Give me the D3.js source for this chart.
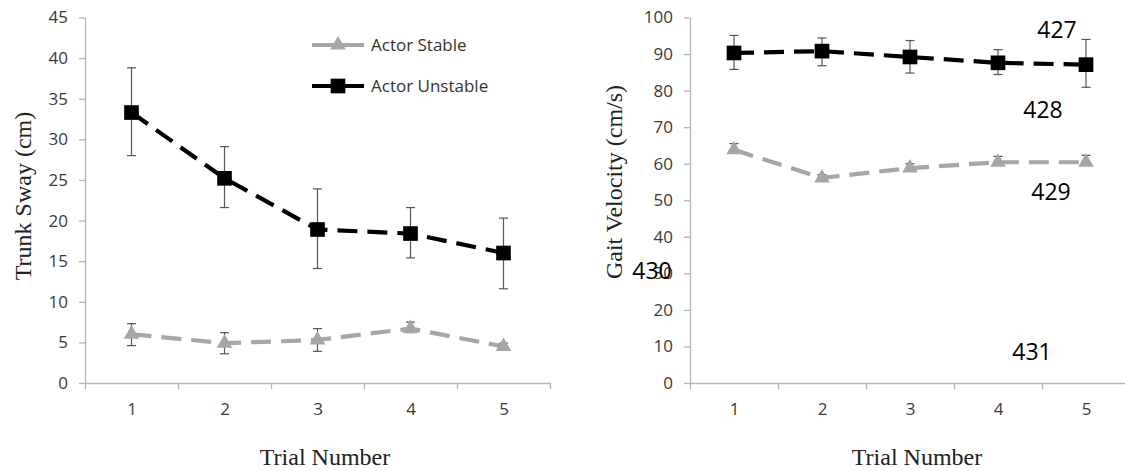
<!DOCTYPE html>
<html>
<head>
<meta charset="utf-8">
<script src="https://cdn.jsdelivr.net/npm/d3@7"></script>
<style>
  body { margin: 0; background: #fff; }
  .tick text { font-family: "Open Sans", sans-serif; }
</style>
</head>
<body>
<div id="chart"></div>
<script>
// trials on the x axis
const trials = [1, 2, 3, 4, 5];
const seriesNames = ["Actor Stable", "Actor Unstable"];

// left panel: trunk sway (cm)
const swayStable = [6.0, 4.9, 5.3, 6.7, 4.5];
const swayStableLo = [4.6, 3.6, 3.9, 6.2, 4.1];
const swayStableHi = [7.3, 6.2, 6.7, 7.5, 4.9];
const swayUnstable = [33.3, 25.2, 18.9, 18.4, 16.0];
const swayUnstableLo = [28.0, 21.6, 14.1, 15.4, 11.6];
const swayUnstableHi = [38.8, 29.1, 23.9, 21.6, 20.3];
const swayTicks = [0, 5, 10, 15, 20, 25, 30, 35, 40, 45];

// right panel: gait velocity (cm/s)
const gaitStable = [63.8, 56.1, 58.8, 60.4, 60.4];
const gaitStableLo = [63.0, 55.3, 58.0, 59.8, 59.6];
const gaitStableHi = [65.5, 57.0, 60.0, 62.0, 62.3];
const gaitUnstable = [90.3, 90.8, 89.2, 87.6, 87.1];
const gaitUnstableLo = [85.8, 86.8, 84.8, 84.4, 80.9];
const gaitUnstableHi = [95.1, 94.4, 93.7, 91.2, 94.0];
const gaitTicks = [0, 10, 20, 30, 40, 50, 60, 70, 80, 90, 100];

// manuscript line numbers that sit on top of the figure
const lineNumbers = ["427", "428", "429", "430", "431"];

class trialPanel {
  constructor(opts) {
    this.svg = opts.svg;
    this.x = d3.scaleLinear().domain([0.5, 5.5]).range(opts.xRange);
    this.y = d3.scaleLinear().domain([0, d3.max(opts.ticks)]).range([383, 17.5]);
    this.ticks = opts.ticks;
    this.series = opts.series;
    this.yTitle = opts.yTitle;
    this.yTitlePos = opts.yTitlePos;
    this.xTitleX = opts.xTitleX;
    this.ready();
  }

  ready() {
    const g = this.svg.append("g");
    const x0 = this.x.range()[0];

    // y axis
    const ya = g.append("g")
      .attr("transform", "translate(" + x0 + ",0)")
      .call(d3.axisLeft(this.y).tickValues(this.ticks).tickSize(6).tickSizeOuter(0).tickPadding(11));
    ya.selectAll("text").style("font-size", "17px").style("fill", "#3a3a3a");

    // x axis: boundary ticks, then labels
    g.append("g")
      .attr("transform", "translate(0," + this.y(0) + ")")
      .call(d3.axisBottom(this.x).tickValues([0.5, 1.5, 2.5, 3.5, 4.5, 5.5]).tickFormat("").tickSize(6).tickSizeOuter(0));
    const xl = g.append("g")
      .attr("transform", "translate(0," + this.y(0) + ")")
      .call(d3.axisBottom(this.x).tickValues(trials).tickFormat(d3.format("d")).tickSize(0).tickPadding(20));
    xl.select(".domain").remove();
    xl.selectAll("text").style("font-size", "17px").style("fill", "#3a3a3a");
    g.selectAll(".domain, .tick line").style("stroke", "#b5b5b5").style("stroke-width", 1.3);

    // titles
    g.append("text")
      .attr("transform", "translate(" + this.yTitlePos[0] + "," + this.yTitlePos[1] + ") rotate(-90)")
      .attr("text-anchor", "middle")
      .attr("dy", "0.35em")
      .style("font-family", "'Liberation Serif', serif")
      .style("font-size", "24px")
      .style("fill", "#222")
      .text(this.yTitle);
    g.append("text")
      .attr("x", this.xTitleX)
      .attr("y", 465)
      .attr("text-anchor", "middle")
      .style("font-family", "'Liberation Serif', serif")
      .style("font-size", "24px")
      .style("fill", "#222")
      .text("Trial Number");

    const line = d3.line().x((d, i) => this.x(trials[i])).y(d => this.y(d));

    this.series.forEach(s => {
      // error bars
      const eb = g.append("g");
      trials.forEach((t, i) => {
        const cx = this.x(t);
        eb.append("line").attr("x1", cx).attr("x2", cx).attr("y1", this.y(s.lo[i])).attr("y2", this.y(s.hi[i]));
        eb.append("line").attr("x1", cx - 4.5).attr("x2", cx + 4.5).attr("y1", this.y(s.lo[i])).attr("y2", this.y(s.lo[i]));
        eb.append("line").attr("x1", cx - 4.5).attr("x2", cx + 4.5).attr("y1", this.y(s.hi[i])).attr("y2", this.y(s.hi[i]));
      });
      eb.selectAll("line").style("stroke", "#555").style("stroke-width", 1.2);

      g.append("path")
        .attr("d", line(s.values))
        .style("fill", "none")
        .style("stroke", s.color)
        .style("stroke-width", 4.2)
        .style("stroke-dasharray", "20,10");

      g.selectAll(null)
        .data(s.values)
        .enter()
        .append("path")
        .attr("transform", (d, i) => "translate(" + this.x(trials[i]) + "," + this.y(d) + ")")
        .attr("d", d3.symbol().type(s.symbol).size(s.size))
        .style("fill", s.color);
    });
  }
}

const svg = d3.select("#chart").append("svg").attr("width", 1125).attr("height", 471);

const stableStyle = { color: "#a6a6a6", symbol: d3.symbolTriangle, size: 105 };
const unstableStyle = { color: "#000", symbol: d3.symbolSquare, size: 215 };

new trialPanel({
  svg: svg,
  xRange: [85, 550],
  ticks: swayTicks,
  yTitle: "Trunk Sway (cm)",
  yTitlePos: [23, 196],
  xTitleX: 325,
  series: [
    Object.assign({ values: swayStable, lo: swayStableLo, hi: swayStableHi }, stableStyle),
    Object.assign({ values: swayUnstable, lo: swayUnstableLo, hi: swayUnstableHi }, unstableStyle)
  ]
});

new trialPanel({
  svg: svg,
  xRange: [690, 1130],
  ticks: gaitTicks,
  yTitle: "Gait Velocity (cm/s)",
  yTitlePos: [614, 182],
  xTitleX: 917,
  series: [
    Object.assign({ values: gaitStable, lo: gaitStableLo, hi: gaitStableHi }, stableStyle),
    Object.assign({ values: gaitUnstable, lo: gaitUnstableLo, hi: gaitUnstableHi }, unstableStyle)
  ]
});

// legend (left panel only)
const legend = svg.append("g").attr("class", "legend");
[stableStyle, unstableStyle].forEach((st, i) => {
  const ly = 45 + i * 41;
  legend.append("line").attr("x1", 312).attr("x2", 364).attr("y1", ly).attr("y2", ly)
    .style("stroke", st.color).style("stroke-width", 4);
  legend.append("path").attr("transform", "translate(338," + ly + ")")
    .attr("d", d3.symbol().type(st.symbol).size(st.size)).style("fill", st.color);
  legend.append("text").attr("x", 371).attr("y", ly).attr("dy", "0.35em")
    .style("font-family", "'Open Sans', sans-serif").style("font-size", "17px").style("fill", "#333")
    .text(seriesNames[i]);
});

// line numbers overlay
const numPos = [[1057, 30], [1043, 110], [1051, 192], [652, 271], [1032, 352]];
svg.selectAll(".linenum")
  .data(lineNumbers)
  .enter()
  .append("text")
  .attr("class", "linenum")
  .attr("x", (d, i) => numPos[i][0])
  .attr("y", (d, i) => numPos[i][1])
  .attr("dy", "0.36em")
  .attr("text-anchor", "middle")
  .style("font-family", "'Open Sans', sans-serif")
  .style("font-size", "23px")
  .style("fill", "#000")
  .text(d => d);
</script>
</body>
</html>
